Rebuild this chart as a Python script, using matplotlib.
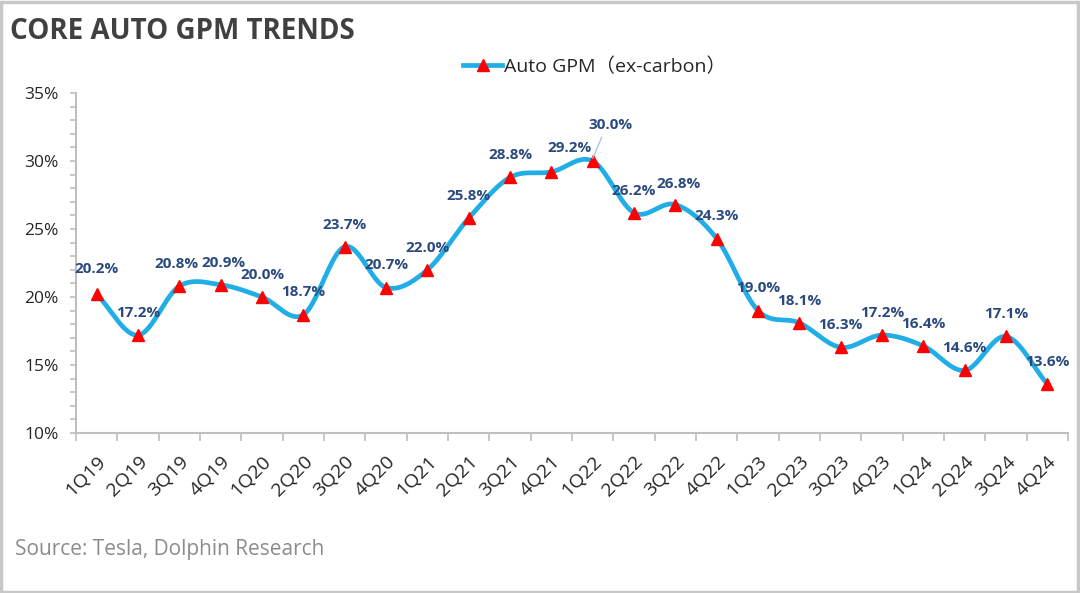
#!/usr/bin/env python3
"""Core auto GPM trends — smoothed line with triangle markers and data labels."""
import numpy as np
import matplotlib
matplotlib.use("Agg")
import matplotlib.pyplot as plt
from matplotlib.patches import Rectangle

# --------------------------------------------------------------------------- #
# Data
# --------------------------------------------------------------------------- #
QUARTERS = ["1Q19", "2Q19", "3Q19", "4Q19", "1Q20", "2Q20", "3Q20", "4Q20",
            "1Q21", "2Q21", "3Q21", "4Q21", "1Q22", "2Q22", "3Q22", "4Q22",
            "1Q23", "2Q23", "3Q23", "4Q23", "1Q24", "2Q24", "3Q24", "4Q24"]
GPM = [20.2, 17.2, 20.8, 20.9, 20.0, 18.7, 23.7, 20.7,
       22.0, 25.8, 28.8, 29.2, 30.0, 26.2, 26.8, 24.3,
       19.0, 18.1, 16.3, 17.2, 16.4, 14.6, 17.1, 13.6]
SERIES_NAME = "Auto GPM（ex-carbon）"
TITLE = "CORE AUTO GPM TRENDS"
SOURCE = "Source: Tesla, Dolphin Research"

# label offsets in points (dx, dy) from each marker; a few are nudged like the original
LABEL_OFFSETS = {0: (0, 18), 2: (-2, 16), 3: (2, 16), 11: (13, 17), 12: (13, 26),
                 14: (2, 15)}
DEFAULT_OFFSET = (0, 16)

LINE_C = "#21AEE6"
MARK_C = "#FF0000"
LABEL_C = "#2A4A7F"
AXIS_C = "#BFBFBF"
TEXT_C = "#262626"


def smooth(x, y, n=30):
    """Catmull-Rom style smoothing like the spreadsheet 'smoothed line' option."""
    x = np.asarray(x, float)
    y = np.asarray(y, float)
    px = np.concatenate([[2 * x[0] - x[1]], x, [2 * x[-1] - x[-2]]])
    py = np.concatenate([[2 * y[0] - y[1]], y, [2 * y[-1] - y[-2]]])
    xs, ys = [], []
    t = np.linspace(0, 1, n, endpoint=False)
    for i in range(1, len(px) - 2):
        b0x, b0y = px[i], py[i]
        b3x, b3y = px[i + 1], py[i + 1]
        b1x = b0x + (px[i + 1] - px[i - 1]) / 6
        b1y = b0y + (py[i + 1] - py[i - 1]) / 6
        b2x = b3x - (px[i + 2] - px[i]) / 6
        b2y = b3y - (py[i + 2] - py[i]) / 6
        xs.append((1 - t) ** 3 * b0x + 3 * (1 - t) ** 2 * t * b1x + 3 * (1 - t) * t ** 2 * b2x + t ** 3 * b3x)
        ys.append((1 - t) ** 3 * b0y + 3 * (1 - t) ** 2 * t * b1y + 3 * (1 - t) * t ** 2 * b2y + t ** 3 * b3y)
    xs.append([x[-1]])
    ys.append([y[-1]])
    return np.concatenate(xs), np.concatenate(ys)


plt.rcParams["font.family"] = ["Open Sans", "Noto Sans CJK SC", "DejaVu Sans"]

fig = plt.figure(figsize=(10.8, 5.93), dpi=100)
fig.patches.append(Rectangle((0.001, 0.002), 0.997, 0.995, transform=fig.transFigure,
                             fill=False, edgecolor="#C8C8C8", linewidth=2.5))

ax = fig.add_axes([0.0704, 0.2698, 0.9185, 0.5732])
xpos = np.arange(len(QUARTERS))
yv = np.array(GPM) / 100

sx, sy = smooth(xpos, yv)
ax.plot(sx, sy, color=LINE_C, lw=3.4, solid_capstyle="round", zorder=2)
ax.plot(xpos, yv, ls="none", marker="^", ms=8.5, color=MARK_C, zorder=3)
# legend proxy
ax.plot([], [], color=LINE_C, lw=3.4, marker="^", ms=8.5, mfc=MARK_C, mec=MARK_C,
        label=SERIES_NAME)

for i, v in enumerate(GPM):
    dx, dy = LABEL_OFFSETS.get(i, DEFAULT_OFFSET)
    ax.annotate(f"{v:.1f}%", (xpos[i], yv[i]), xytext=(dx, dy), textcoords="offset points",
                ha="center", va="center", fontsize=11, fontweight="bold", color=LABEL_C,
                zorder=4)
# leader line for the peak label
ax.annotate("", (xpos[12], yv[12] + 0.002), xytext=(xpos[12] + 0.22, 0.3176),
            arrowprops=dict(arrowstyle="-", color="#9DC3E6", lw=0.9,
                            shrinkA=0, shrinkB=0))

ax.set_xlim(-0.5, len(QUARTERS) - 0.5)
ax.set_ylim(0.10, 0.35)
ax.set_yticks(np.arange(0.10, 0.351, 0.05))
ax.set_yticklabels([f"{int(round(t * 100))}%" for t in np.arange(0.10, 0.351, 0.05)])
ax.set_yticks(np.arange(0.10, 0.351, 0.01), minor=True)
ax.set_xticks(np.arange(-0.5, len(QUARTERS), 1.0))
ax.set_xticklabels([])
ax.set_xticks(xpos, minor=True)
ax.set_xticklabels(QUARTERS, minor=True, rotation=45, ha="right", va="top",
                   rotation_mode="anchor", fontsize=14, color=TEXT_C)

for s in ["top", "right"]:
    ax.spines[s].set_visible(False)
for s in ["left", "bottom"]:
    ax.spines[s].set_color(AXIS_C)
    ax.spines[s].set_linewidth(1.5)
ax.tick_params(axis="y", which="both", colors=AXIS_C, labelcolor=TEXT_C, labelsize=12.5,
               direction="out", width=1.2, length=4.5, pad=8)
ax.tick_params(axis="x", which="major", colors=AXIS_C, direction="out", width=1.2, length=6)
ax.tick_params(axis="x", which="minor", length=0, pad=14)

ax.legend(loc="center", bbox_to_anchor=(0.523, 1.077), frameon=False, fontsize=14,
          handlelength=2.0, handletextpad=0.1, labelcolor=TEXT_C)

fig.text(0.009, 0.947, TITLE, fontsize=20, fontweight="bold", color="#404040",
         ha="left", va="center")
fig.text(0.014, 0.073, SOURCE, fontsize=15, color="#8C8C8C", ha="left", va="center")

fig.savefig("out.png", dpi=100)
